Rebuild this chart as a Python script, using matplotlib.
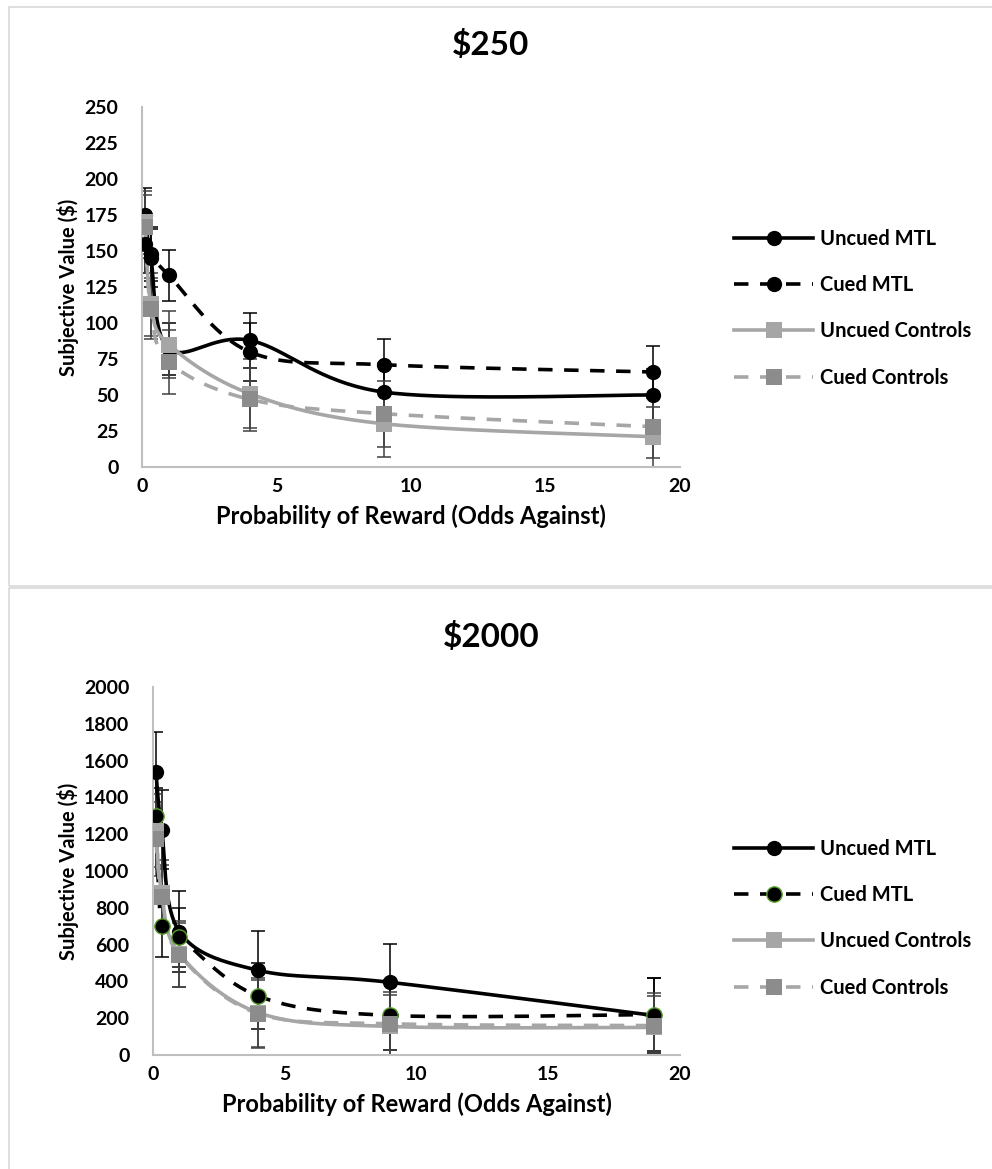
import numpy as np
import matplotlib.pyplot as plt
from matplotlib.patches import Rectangle
from matplotlib.lines import Line2D

plt.rcParams['font.family'] = ['Lato', 'DejaVu Sans']
plt.rcParams['font.weight'] = 'bold'

odds = [0.11, 0.33, 1, 4, 9, 19]
series_names = ['Uncued MTL', 'Cued MTL', 'Uncued Controls', 'Cued Controls']

# $250 panel
v250_uncued_mtl = [175, 145, 82, 88, 52, 50]
v250_cued_mtl = [155, 148, 133, 80, 71, 66]
v250_uncued_ctrl = [170, 113, 85, 51, 30, 21]
v250_cued_ctrl = [167, 110, 73, 47, 37, 28]
e250_uncued_mtl = [19, 20, 18, 19, 20, 18]
e250_cued_mtl = [20, 19, 18, 20, 18, 18]
e250_uncued_ctrl = [22, 22, 23, 24, 23, 21]
e250_cued_ctrl = [22, 21, 22, 22, 23, 22]

# $2000 panel
v2000_uncued_mtl = [1540, 1225, 670, 460, 395, 215]
v2000_cued_mtl = [1300, 700, 640, 320, 215, 220]
v2000_uncued_ctrl = [1220, 880, 550, 230, 155, 150]
v2000_cued_ctrl = [1175, 860, 545, 225, 170, 160]
e2000_uncued_mtl = [215, 215, 220, 212, 207, 205]
e2000_cued_mtl = [150, 170, 160, 180, 190, 200]
e2000_uncued_ctrl = [200, 180, 180, 190, 170, 170]
e2000_cued_ctrl = [200, 175, 175, 180, 175, 175]


def smooth(x, y, xr, yr, n=40):
    # Excel-style smoothed line (Bezier, tension 1/6) in normalized space
    p = np.column_stack([np.asarray(x, float) / xr, np.asarray(y, float) / yr])
    pts = []
    for i in range(len(p) - 1):
        p0 = p[i - 1] if i > 0 else p[i]
        p3 = p[i + 2] if i + 2 < len(p) else p[i + 1]
        c1 = p[i] + (p[i + 1] - p0) / 6
        c2 = p[i + 1] - (p3 - p[i]) / 6
        t = np.linspace(0, 1, n)[:, None]
        b = ((1 - t) ** 3) * p[i] + 3 * ((1 - t) ** 2) * t * c1 + 3 * (1 - t) * t ** 2 * c2 + t ** 3 * p[i + 1]
        pts.append(b)
    pts = np.vstack(pts)
    return pts[:, 0] * xr, pts[:, 1] * yr


dash = (0, (4, 3.2))
styles = [
    dict(color='black', ls='-', marker='o', mfc='black', mec='black', ecol='black'),
    dict(color='black', ls=dash, marker='o', mfc='black', mec='black', ecol='black'),
    dict(color='#a6a6a6', ls='-', marker='s', mfc='#a6a6a6', mec='#a6a6a6', ecol='#404040'),
    dict(color='#a6a6a6', ls=dash, marker='s', mfc='#8c8c8c', mec='#8c8c8c', ecol='#404040'),
]

fig = plt.figure(figsize=(9.92, 11.69), dpi=100)
fig.patches.append(Rectangle((9 / 992, 1 - 586 / 1169), 1.2, 579 / 1169, transform=fig.transFigure,
                             fill=False, ec='#d9d9d9', lw=1.2))
fig.patches.append(Rectangle((9 / 992, -0.1), 1.2, 0.1 + 1 - 588 / 1169, transform=fig.transFigure,
                             fill=False, ec='#d9d9d9', lw=1.2))


def panel(rect, title, ymax, ystep, vals, errs, green_cued, title_y, leg_y):
    ax = fig.add_axes(rect)
    yr = ymax * (rect[3] / rect[2]) * 1169 / 992
    for k, (v, e) in enumerate(zip(vals, errs)):
        st = styles[k]
        ax.errorbar(odds, v, yerr=e, fmt='none', ecolor=st['ecol'], elinewidth=1.1, capsize=5,
                    capthick=1.1, zorder=2)
    for k, v in enumerate(vals):
        st = styles[k]
        sx, sy = smooth(odds, v, 20, yr)
        ax.plot(sx, sy, color=st['color'], ls=st['ls'], lw=2.6, zorder=3)
        mec = '#5aa02c' if (green_cued and k == 1) else st['mec']
        ax.plot(odds, v, ls='none', marker=st['marker'], ms=11, mfc=st['mfc'], mec=mec,
                mew=1.0 if (green_cued and k == 1) else 0, zorder=4)
    ax.set_xlim(0, 20)
    ax.set_ylim(0, ymax)
    ax.set_xticks([0, 5, 10, 15, 20])
    ax.set_yticks(np.arange(0, ymax + 1, ystep))
    ax.tick_params(axis='x', length=0, labelsize=14, pad=8)
    ax.tick_params(axis='y', length=0, labelsize=14, pad=17)
    for lab in ax.get_xticklabels() + ax.get_yticklabels():
        lab.set_fontweight('bold')
    for s in ['top', 'right']:
        ax.spines[s].set_visible(False)
    for s in ['left', 'bottom']:
        ax.spines[s].set_color('#bfbfbf')
        ax.spines[s].set_linewidth(1.5)
    ax.set_xlabel('Probability of Reward (Odds Against)', fontsize=17, fontweight='bold', labelpad=7)
    ax.set_ylabel('Subjective Value ($)', fontsize=14.5, fontweight='bold', va='center')
    ax.yaxis.set_label_coords((68 / 992 - rect[0]) / rect[2], 0.5)
    fig.text(0.495, title_y, title, ha='center', va='center', fontsize=24, fontweight='bold')
    handles = []
    for k in range(4):
        st = styles[k]
        mec = '#5aa02c' if (green_cued and k == 1) else st['mec']
        handles.append(Line2D([], [], color=st['color'], ls=st['ls'], lw=2.6, marker=st['marker'],
                              ms=11, mfc=st['mfc'], mec=mec, mew=1.0 if (green_cued and k == 1) else 0))
    fig.legend(handles, series_names, loc='upper left', bbox_to_anchor=(0.722, leg_y),
               frameon=False, handlelength=3.9, labelspacing=1.3,
               handletextpad=0.35, prop={'weight': 'bold', 'size': 14.5})
    return ax


panel([142 / 992, 1 - 467 / 1169, 538 / 992, 360 / 1169], '$250', 250, 25,
      [v250_uncued_mtl, v250_cued_mtl, v250_uncued_ctrl, v250_cued_ctrl],
      [e250_uncued_mtl, e250_cued_mtl, e250_uncued_ctrl, e250_cued_ctrl],
      False, 1 - 45 / 1169, 1 - 211 / 1169)
panel([153 / 992, 1 - 1055 / 1169, 527 / 992, 368 / 1169], '$2000', 2000, 200,
      [v2000_uncued_mtl, v2000_cued_mtl, v2000_uncued_ctrl, v2000_cued_ctrl],
      [e2000_uncued_mtl, e2000_cued_mtl, e2000_uncued_ctrl, e2000_cued_ctrl],
      True, 1 - 637 / 1169, 1 - 821 / 1169)

fig.savefig('out.png', dpi=100)
